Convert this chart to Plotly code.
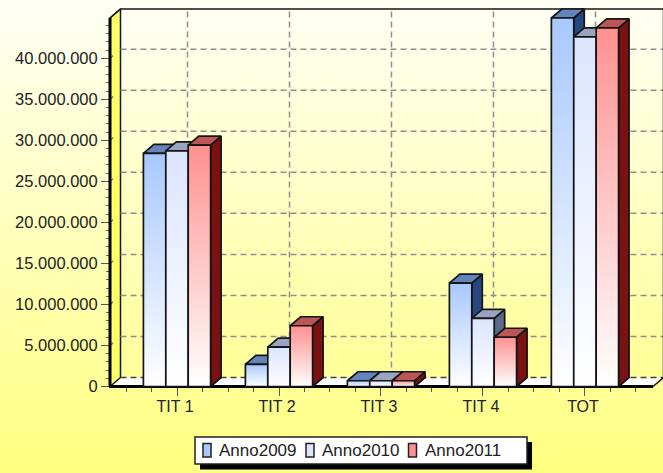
import base64, struct, zlib
import plotly.graph_objects as go

categories = ["TIT 1", "TIT 2", "TIT 3", "TIT 4", "TOT"]
anno2009 = [28400000, 2700000, 700000, 12600000, 44900000]
anno2010 = [28700000, 4800000, 700000, 8300000, 42600000]
anno2011 = [29400000, 7400000, 700000, 6000000, 43700000]
y_ticks = [0, 5000000, 10000000, 15000000, 20000000, 25000000, 30000000, 35000000, 40000000]

series = [
    ("Anno2009", anno2009, "#A8C8FF", "#6484BC", "#264880"),
    ("Anno2010", anno2010, "#DCE5FF", "#98A4C0", "#5A6A88"),
    ("Anno2011", anno2011, "#FF9090", "#BC5656", "#7A1212"),
]

W, H = 663, 473
L, R, T, B = 110, 653, 18, 386.5          # front plane, in page pixels
AL, AR, AT, AB = 100, 663, 2, 396         # drawing area that holds the depth offset
XR = (-0.657, 4.667)
YR = (0, 44900000)
px_x = (R - L) / (XR[1] - XR[0])
px_y = (B - T) / (YR[1] - YR[0])
DX = 10.5 / px_x
DY = 9 / px_y
BW = 22.4 / px_x
INK = "#151515"
GRID = "#8f8f8f"
TXT = "#222222"
FONT = "Liberation Sans"


def page_png():
    top, bot = (255, 255, 246), (255, 255, 128)
    rows = b""
    for j in range(H):
        f = j / (H - 1)
        c = bytes(round(a + (b - a) * f) for a, b in zip(top, bot))
        rows += b"\x00" + c * 2
    def chunk(t, d):
        return struct.pack(">I", len(d)) + t + d + struct.pack(">I", zlib.crc32(t + d))
    png = (b"\x89PNG\r\n\x1a\n" + chunk(b"IHDR", struct.pack(">IIBBBBB", 2, H, 8, 2, 0, 0, 0))
           + chunk(b"IDAT", zlib.compress(rows)) + chunk(b"IEND", b""))
    return "data:image/png;base64," + base64.b64encode(png).decode()


def px(x):
    return (x - AL) / (AR - AL)


def py(y):
    return (AB - y) / (AB - AT)


fig = go.Figure()
fig.add_trace(go.Scatter(x=[], y=[], xaxis="x", yaxis="y", showlegend=False, hoverinfo="skip"))


def poly(xs, ys, fill=None, line=INK, width=1.7, gradient=None, name=None):
    kw = dict(x=list(xs), y=list(ys), xaxis="x2", yaxis="y2", mode="lines", showlegend=False,
              hoverinfo="skip", name=name, line=dict(color=line, width=width))
    if fill or gradient:
        kw["fill"] = "toself"
        if fill:
            kw["fillcolor"] = fill
        if gradient:
            kw["fillgradient"] = gradient
    fig.add_trace(go.Scatter(**kw))


def dashed(xs, ys, dash="6px,4px", color=GRID, width=1.5):
    fig.add_trace(go.Scatter(x=list(xs), y=list(ys), xaxis="x2", yaxis="y2", mode="lines", showlegend=False,
                             hoverinfo="skip", line=dict(color=color, width=width, dash=dash)))


x0, x1, ytop = XR[0], XR[1], YR[1]
# floor and left wall
poly([x0, x0 + DX, x1 + DX, x1, x0], [0, DY, DY, 0, 0], fill="#FFFFFF", line="rgba(0,0,0,0)", width=0)
poly([x0, x0 + DX, x0 + DX, x0, x0], [0, DY, ytop + DY, ytop, 0], fill="#FFFF66", line=INK, width=1.5)
# back grid
for v in y_ticks[1:]:
    dashed([x0 + DX, x1 + DX], [v + DY, v + DY])
    dashed([x0, x0 + DX], [v, v + DY], dash="4px,20px", color="#777777")
for i in range(len(categories)):
    dashed([i + DX, i + DX], [DY, ytop + DY])
dashed([x0 + DX, x1 + DX], [DY, DY], color="#444444")
# back wall border
poly([x0, x0 + DX, x1 + DX, x1 + DX, x1], [ytop, ytop + DY, ytop + DY, DY, 0], line=INK, width=1.5)
# front axis lines
poly([x0, x0], [0, ytop], line="#000000", width=3)
poly([x0 - 0.01, x1], [0, 0], line="#000000", width=3)

# bars
for c in range(len(categories)):
    for s, (name, vals, front, top, side) in enumerate(series):
        v = vals[c]
        a = c - 1.5 * BW + s * BW
        b = a + BW
        poly([b, b + DX, b + DX, b, b], [0, DY, v + DY, v, 0], fill=side)
        poly([a, a + DX, b + DX, b, a], [v, v + DY, v + DY, v, v], fill=top)
        poly([a, b, b, a, a], [0, 0, v, v, 0], name=name,
             gradient=dict(type="vertical", start=0, stop=v,
                           colorscale=[[0, "#FFFFFF"], [1, front]]))

shapes = [
    dict(type="rect", xref="paper", yref="paper", x0=px(200), x1=px(532), y0=py(442), y1=py(469.5),
         fillcolor="#000000", line=dict(width=0)),
    dict(type="rect", xref="paper", yref="paper", x0=px(195), x1=px(527), y0=py(437), y1=py(464),
         fillcolor="#FFFFFF", line=dict(color="#222222", width=1.5)),
]
annotations = []
for (name, vals, front, top, side), sx, tx in zip(series, [203, 306, 408.5], [218, 321, 424]):
    shapes.append(dict(type="rect", xref="paper", yref="paper", x0=px(sx), x1=px(sx + 8), y0=py(443.5),
                       y1=py(457), fillcolor=front, line=dict(color="#222222", width=1.5)))
    annotations.append(dict(xref="paper", yref="paper", x=px(tx), y=py(450.5), text=name, showarrow=False,
                            xanchor="left", yanchor="middle", xshift=-1,
                            font=dict(family=FONT, size=17, color=TXT)))

fig.update_layout(
    width=W, height=H, autosize=False,
    margin=dict(l=AL, r=W - AR, t=AT, b=H - AB, pad=0),
    paper_bgcolor="#FFFFC0", plot_bgcolor="rgba(0,0,0,0)",
    separators=",.",
    showlegend=False,
    shapes=shapes, annotations=annotations,
    images=[dict(source=page_png(), xref="paper", yref="paper", x=px(0), y=py(0),
                 sizex=px(W) - px(0), sizey=py(0) - py(H), sizing="stretch",
                 xanchor="left", yanchor="top", layer="below")],
    xaxis=dict(domain=[px(L), px(R)], anchor="y", range=list(XR), tickmode="array",
               tickvals=list(range(len(categories))), ticktext=categories,
               showgrid=False, zeroline=False, showline=False,
               ticks="outside", ticklen=8, tickwidth=1, tickcolor="#555555",
               ticklabelstandoff=-3, ticklabelshift=-2,
               tickfont=dict(family=FONT, size=16, color=TXT),
               minor=dict(tickmode="array", tickvals=[i * 0.25 - 0.5 for i in range(21)], ticks="outside",
                          ticklen=4, tickwidth=1, tickcolor="#555555", showgrid=False)),
    yaxis=dict(domain=[py(B), py(T)], anchor="x", range=list(YR), tickmode="array", tickvals=y_ticks,
               tickformat=",d",
               showgrid=False, zeroline=False, showline=False,
               ticks="outside", ticklen=8, tickwidth=1, tickcolor="#555555",
               tickfont=dict(family=FONT, size=16.5, color=TXT),
               minor=dict(tickmode="array", tickvals=[i * 1000000 for i in range(45)], ticks="outside",
                          ticklen=3, tickwidth=1, tickcolor="#666666", showgrid=False)),
    xaxis2=dict(domain=[0, 1], anchor="y2", visible=False,
                range=[XR[0] - (L - AL) / px_x, XR[1] + (AR - R) / px_x]),
    yaxis2=dict(domain=[0, 1], anchor="x2", visible=False,
                range=[YR[0] - (AB - B) / px_y, YR[1] + (T - AT) / px_y]),
)

fig.write_html("out.html", config=dict(displayModeBar=False),
               post_script="document.body.style.margin='0';document.body.style.overflow='hidden';")
